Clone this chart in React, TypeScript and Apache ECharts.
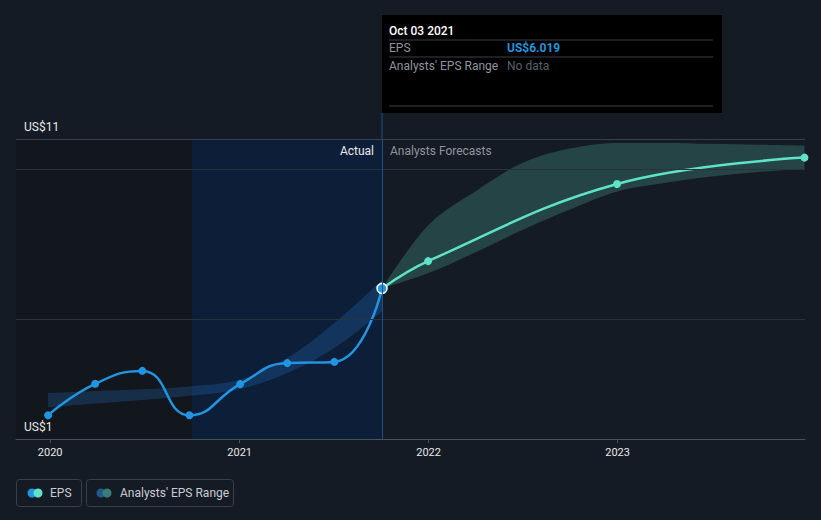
import React, { useEffect, useRef } from 'react';
import * as echarts from 'echarts';

// ---- data ----
const actualDates = ['2019-12-28', '2020-03-28', '2020-06-27', '2020-09-26', '2021-01-02', '2021-04-03', '2021-07-03', '2021-10-03'];
const actualEps = [1.79, 2.84, 3.27, 1.79, 2.83, 3.53, 3.57, 6.019];

const forecastDates = ['2021-10-03', '2021-12-31', '2022-12-31', '2023-12-28'];
const forecastEps = [6.019, 6.93, 9.5, 10.38];

const pastRangeDates = ['2019-12-28', '2020-03-28', '2020-06-27', '2020-09-26', '2021-01-02', '2021-04-03', '2021-07-03', '2021-10-03'];
const pastRangeLow = [2.05, 2.18, 2.3, 2.44, 2.67, 3.2, 4.03, 5.25];
const pastRangeHigh = [2.53, 2.6, 2.66, 2.75, 2.98, 3.7, 4.87, 6.29];

const fcRangeDates = ['2021-10-03', '2022-01-01', '2022-04-01', '2022-07-01', '2022-10-01', '2023-01-01', '2023-04-01', '2023-07-01', '2023-10-01', '2023-12-28'];
const fcRangeLow = [6.019, 6.53, 7.22, 7.97, 8.65, 9.25, 9.53, 9.75, 9.9, 10.0];
const fcRangeHigh = [6.019, 8.14, 9.25, 10.2, 10.68, 10.87, 10.87, 10.84, 10.81, 10.78];

const gridValues = [5, 10, 11];
const yLabelValues = [1, 11];
const xMin = '2019-10-27';
const xMax = '2023-12-29';
const pastStart = '2020-10-01';
const today = '2021-10-03';
const tooltipDate = 'Oct 03 2021';
const tooltipEps = 'US$6.019';

const BG = '#151b24';
const BLUE = '#2394df';
const MINT = '#5fe3c8';
const FONT = 'Roboto, "Noto Sans", sans-serif';

export default function App() {
  const ref = useRef<HTMLDivElement>(null);

  useEffect(() => {
    if (!ref.current) return;
    const chart = echarts.init(ref.current, undefined, { renderer: 'svg' });

    const pair = (ds: string[], vs: number[]) => ds.map((d, i) => [d, vs[i]]);

    const actualData: any[] = pair(actualDates, actualEps);
    const last = actualData.length - 1;
    actualData[last] = {
      value: actualData[last],
      symbolSize: 10,
      itemStyle: { color: BLUE, borderColor: '#ffffff', borderWidth: 1.5 },
    };
    const fcData: any[] = pair(forecastDates, forecastEps);
    fcData[0] = { value: fcData[0], symbol: 'none' };

    const bandSeries = (name: string, stack: string, data: any[], area?: string) => ({
      name,
      type: 'line',
      stack,
      smooth: 0.35,
      symbol: 'none',
      silent: true,
      lineStyle: { opacity: 0 },
      areaStyle: area ? { color: area } : undefined,
      data,
      z: 1,
    });

    const option: any = {
      animation: false,
      backgroundColor: BG,
      textStyle: { fontFamily: FONT },
      grid: { left: 16, right: 16, top: 139, bottom: 81, containLabel: false },
      xAxis: {
        type: 'time',
        min: xMin,
        max: xMax,
        minInterval: 365 * 24 * 3600 * 1000,
        splitLine: { show: false },
        axisLine: { show: true, lineStyle: { color: '#4a5059', width: 1 } },
        axisTick: { show: true, length: 4, lineStyle: { color: '#4a5059' } },
        axisLabel: {
          color: '#e8e8e8',
          fontSize: 11,
          margin: 8,
          formatter: (v: number) => {
            const d = new Date(v);
            return d.getMonth() === 0 && d.getDate() === 1 ? String(d.getFullYear()) : '';
          },
        },
      },
      yAxis: {
        type: 'value',
        min: 1,
        max: 11,
        splitLine: { show: false },
        axisLine: { show: false },
        axisTick: { show: false },
        axisLabel: { show: false },
      },
      series: [
        {
          name: 'bg',
          type: 'line',
          data: [],
          z: 0,
          silent: true,
          markArea: {
            silent: true,
            data: [
              [{ xAxis: xMin, itemStyle: { color: '#12161d' } }, { xAxis: pastStart }],
              [{ xAxis: pastStart, itemStyle: { color: '#0d1f38' } }, { xAxis: today }],
            ],
          },
          markLine: {
            silent: true,
            symbol: 'none',
            label: { show: false },
            data: [
              ...gridValues.map((v) => ({ yAxis: v, lineStyle: { color: v === 11 ? '#3a404a' : '#2c323c', width: 1, type: 'solid' } })),
              { xAxis: today, lineStyle: { color: '#1e4f86', width: 1, type: 'solid' } },
            ],
          },
        },
        bandSeries('pastLow', 'past', pair(pastRangeDates, pastRangeLow)),
        bandSeries('pastRange', 'past', pair(pastRangeDates, pastRangeHigh.map((h, i) => h - pastRangeLow[i])), 'rgba(42,125,210,0.35)'),
        bandSeries('fcLow', 'fc', pair(fcRangeDates, fcRangeLow)),
        bandSeries('fcRange', 'fc', pair(fcRangeDates, fcRangeHigh.map((h, i) => h - fcRangeLow[i])), 'rgba(100,220,200,0.3)'),
        {
          name: 'EPS forecast',
          type: 'line',
          smooth: 0.4,
          symbol: 'circle',
          symbolSize: 8,
          showAllSymbol: true,
          lineStyle: { color: MINT, width: 2.5 },
          itemStyle: { color: MINT },
          data: fcData,
          z: 3,
        },
        {
          name: 'EPS',
          type: 'line',
          smooth: 0.5,
          symbol: 'circle',
          symbolSize: 8,
          showAllSymbol: true,
          lineStyle: { color: BLUE, width: 2.5 },
          itemStyle: { color: BLUE },
          data: actualData,
          z: 4,
        },
      ],
    };

    chart.setOption(option);

    const cx = chart.convertToPixel({ xAxisIndex: 0 }, today) as number;
    const gridTop = chart.convertToPixel({ yAxisIndex: 0 }, 11) as number;
    const tipTop = 15;
    const tipBottom = 113;
    const tipW = 340;
    const tx = cx + 7;
    const valX = cx + 125;

    const yLabels = yLabelValues.map((v) => ({
      type: 'text',
      silent: true,
      x: 24,
      y: (chart.convertToPixel({ yAxisIndex: 0 }, v) as number) - 12,
      style: { text: 'US$' + v, fill: '#e8e8e8', font: `12px ${FONT}`, verticalAlign: 'middle' },
    }));

    const elements: any[] = [
      ...yLabels,
      { type: 'line', silent: true, shape: { x1: cx, y1: tipBottom, x2: cx, y2: gridTop }, style: { stroke: '#1e4f86', lineWidth: 1 } },
      { type: 'rect', shape: { x: cx, y: tipTop, width: tipW, height: tipBottom - tipTop }, style: { fill: '#000000' } },
      { type: 'text', x: tx, y: 31, style: { text: tooltipDate, fill: '#ffffff', font: `500 12px ${FONT}`, verticalAlign: 'middle' } },
      { type: 'line', shape: { x1: tx, y1: 40, x2: cx + 331, y2: 40 }, style: { stroke: '#3a3f46', lineWidth: 1 } },
      { type: 'text', x: tx, y: 48, style: { text: 'EPS', fill: '#8f959d', font: `12px ${FONT}`, verticalAlign: 'middle' } },
      { type: 'text', x: valX, y: 48, style: { text: tooltipEps, fill: BLUE, font: `bold 12px ${FONT}`, verticalAlign: 'middle' } },
      { type: 'line', shape: { x1: tx, y1: 57, x2: cx + 331, y2: 57 }, style: { stroke: '#3a3f46', lineWidth: 1 } },
      { type: 'text', x: tx, y: 66, style: { text: "Analysts' EPS Range", fill: '#8f959d', font: `12px ${FONT}`, verticalAlign: 'middle' } },
      { type: 'text', x: valX, y: 66, style: { text: 'No data', fill: '#5a6068', font: `12px ${FONT}`, verticalAlign: 'middle' } },
      { type: 'line', shape: { x1: tx, y1: 106, x2: cx + 331, y2: 106 }, style: { stroke: '#3a3f46', lineWidth: 1 } },
      { type: 'text', x: cx - 8, y: 151, style: { text: 'Actual', fill: '#e8e8e8', font: `12px ${FONT}`, align: 'right', verticalAlign: 'middle' } },
      { type: 'text', x: cx + 8, y: 151, style: { text: 'Analysts Forecasts', fill: '#8f959d', font: `12px ${FONT}`, align: 'left', verticalAlign: 'middle' } },
      // legend
      { type: 'rect', shape: { x: 16.5, y: 479.5, width: 65, height: 27, r: 3 }, style: { fill: 'none', stroke: '#3a404a', lineWidth: 1 } },
      { type: 'circle', shape: { cx: 32, cy: 493, r: 4.5 }, style: { fill: BLUE } },
      { type: 'circle', shape: { cx: 38, cy: 493, r: 4.5 }, style: { fill: MINT } },
      { type: 'text', x: 50, y: 493, style: { text: 'EPS', fill: '#c8ccd2', font: `12px ${FONT}`, verticalAlign: 'middle' } },
      { type: 'rect', shape: { x: 86.5, y: 479.5, width: 147, height: 27, r: 3 }, style: { fill: 'none', stroke: '#3a404a', lineWidth: 1 } },
      { type: 'circle', shape: { cx: 101, cy: 493, r: 4.5 }, style: { fill: '#1f5a8a' } },
      { type: 'circle', shape: { cx: 107, cy: 493, r: 4.5 }, style: { fill: '#3a7d78' } },
      { type: 'text', x: 120, y: 493, style: { text: "Analysts' EPS Range", fill: '#c8ccd2', font: `12px ${FONT}`, verticalAlign: 'middle' } },
    ];
    option.graphic = elements.map((e) => ({ ...e, z: 100 }));
    chart.setOption(option);

    return () => chart.dispose();
  }, []);

  return <div ref={ref} style={{ width: 821, height: 520, position: 'absolute', left: 0, top: 0 }} />;
}
